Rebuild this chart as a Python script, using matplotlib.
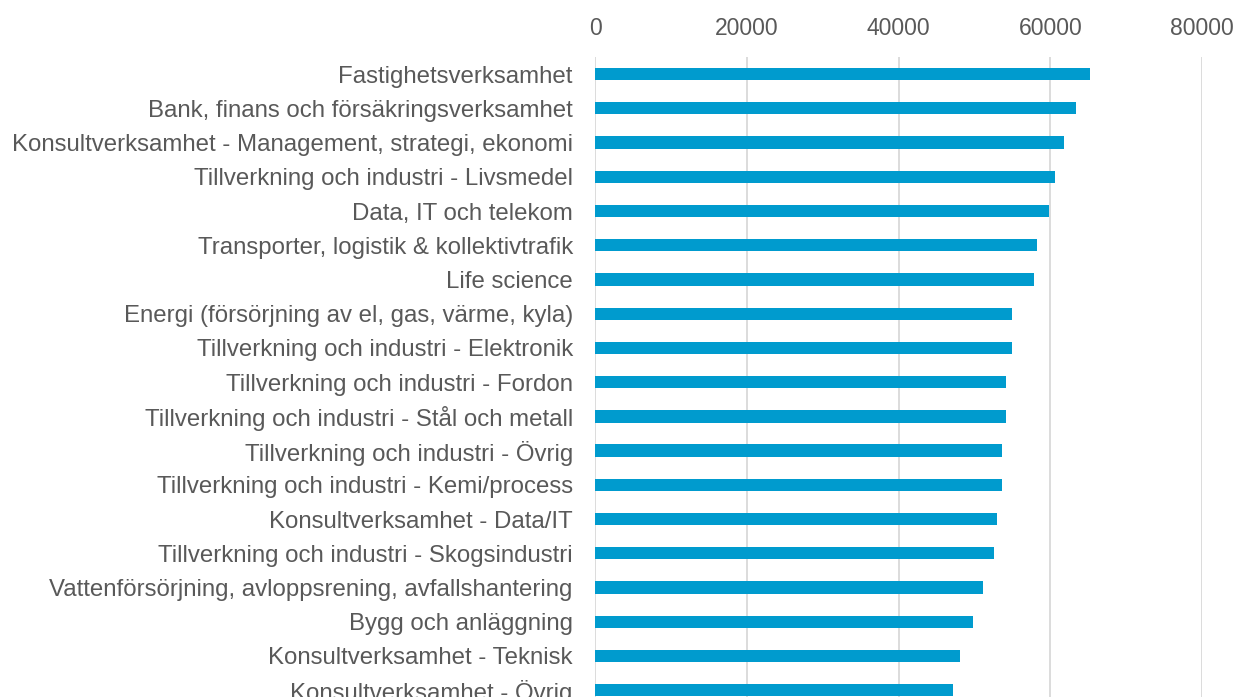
import matplotlib.pyplot as plt

# branscher och värden
branscher = [
    "Fastighetsverksamhet",
    "Bank, finans och försäkringsverksamhet",
    "Konsultverksamhet - Management, strategi, ekonomi",
    "Tillverkning och industri - Livsmedel",
    "Data, IT och telekom",
    "Transporter, logistik & kollektivtrafik",
    "Life science",
    "Energi (försörjning av el, gas, värme, kyla)",
    "Tillverkning och industri - Elektronik",
    "Tillverkning och industri - Fordon",
    "Tillverkning och industri - Stål och metall",
    "Tillverkning och industri - Övrig",
    "Tillverkning och industri - Kemi/process",
    "Konsultverksamhet - Data/IT",
    "Tillverkning och industri - Skogsindustri",
    "Vattenförsörjning, avloppsrening, avfallshantering",
    "Bygg och anläggning",
    "Konsultverksamhet - Teknisk",
    "Konsultverksamhet - Övrig",
]
loner = [65200, 63400, 61800, 60600, 59900, 58200, 57800, 55000, 54900,
         54200, 54200, 53700, 53600, 53000, 52600, 51200, 49800, 48100, 47200]
xticks = [0, 20000, 40000, 60000, 80000]

plt.rcParams['font.family'] = ['Liberation Sans', 'DejaVu Sans']
textfarg = '#595959'

fig = plt.figure(figsize=(12.39, 6.97), dpi=100)
ax = fig.add_axes([595/1239, 0, 607/1239, 640/697])

ax.barh(range(len(branscher)), loner, height=0.36, color='#009BCE', zorder=3)

ax.set_xlim(0, 80000)
ax.set_ylim(18.2, -0.5)
ax.set_xticks(xticks)
ax.set_xticklabels([str(t) for t in xticks])
ax.set_yticks(range(len(branscher)))
ax.set_yticklabels(branscher)

ax.xaxis.tick_top()
ax.tick_params(axis='x', length=0, pad=12, labelsize=16.5, labelcolor=textfarg)
ax.tick_params(axis='y', length=0, pad=16, labelsize=17.3, labelcolor=textfarg)
ax.grid(axis='x', color='#D9D9D9', linewidth=1.3, zorder=0)
for s in ax.spines.values():
    s.set_visible(False)

fig.savefig('out.png', dpi=100)
